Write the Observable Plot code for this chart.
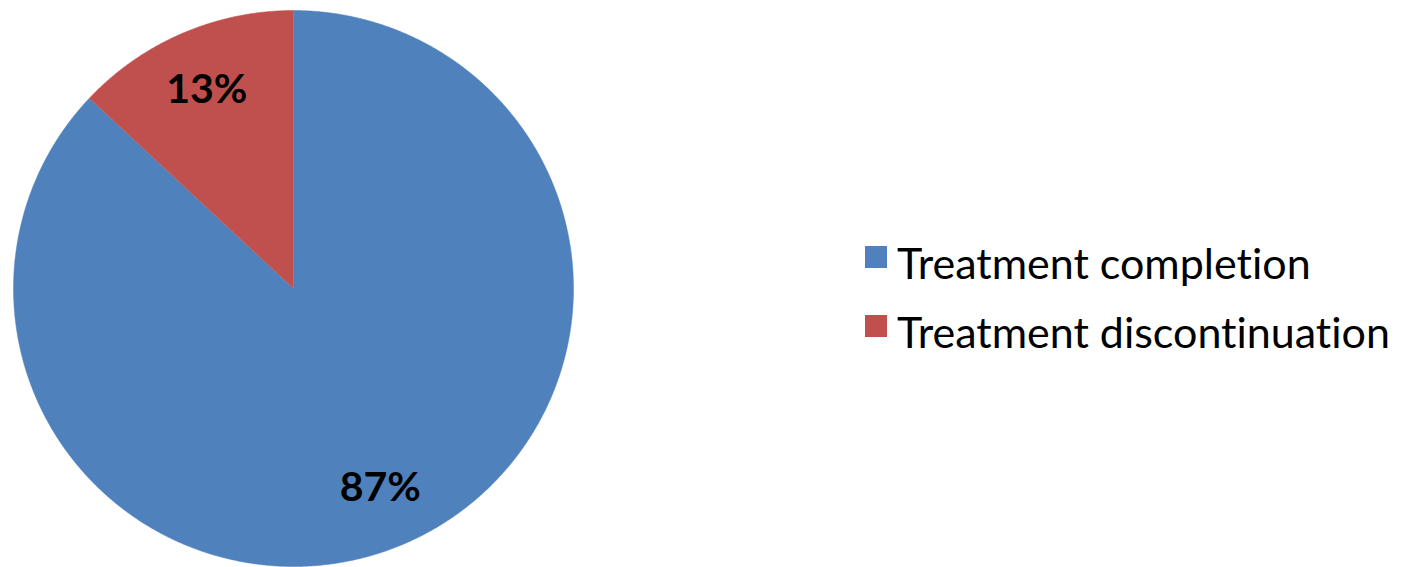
<!DOCTYPE html>
<html>
<head>
<meta charset="utf-8">
<script src="https://cdn.jsdelivr.net/npm/d3@7"></script>
<script src="https://cdn.jsdelivr.net/npm/@observablehq/plot@0.6"></script>
<style>
  html, body { margin: 0; padding: 0; background: #fff; }
  #wrap { position: relative; width: 1404px; height: 567px; overflow: hidden; }
  #legend { position: absolute; left: 865px; top: 228px; font-family: Lato, "Open Sans", sans-serif; font-size: 43px; color: #000; font-variant-ligatures: none; font-feature-settings: "liga" 0; }
  .row { display: flex; align-items: center; height: 69px; }
  .sw { width: 22px; height: 22px; margin-right: 10px; margin-top: -12px; }
</style>
</head>
<body>
<div id="wrap"></div>
<script>
const categories = ["Treatment completion", "Treatment discontinuation"];
const values = [87, 13];
const labels = ["87%", "13%"];
const colors = ["#4F81BD", "#C0504D"];

const pie = d3.pie().sort(null).value(d => d.value);
const arcs = pie(categories.map((name, i) => ({name, value: values[i], label: labels[i]})));

// build slice outlines in unit-circle coordinates from the pie angles
const outline = [];
for (const a of arcs) {
  outline.push({name: a.data.name, x: 0, y: 0});
  const n = Math.max(2, Math.ceil((a.endAngle - a.startAngle) / 0.005));
  for (let k = 0; k <= n; k++) {
    const t = a.startAngle + (a.endAngle - a.startAngle) * k / n;
    outline.push({name: a.data.name, x: Math.sin(t), y: Math.cos(t)});
  }
}
const labelR = 0.78;
const labelPts = arcs.map(a => {
  const m = (a.startAngle + a.endAngle) / 2;
  return {label: a.data.label, x: labelR * Math.sin(m), y: labelR * Math.cos(m)};
});

const chart = Plot.plot({
  width: 1404,
  height: 567,
  margin: 0,
  style: {background: "#fff"},
  x: {domain: [-1, 1], range: [13, 573], axis: null},
  y: {domain: [-1, 1], range: [566, 10], axis: null},
  color: {domain: categories, range: colors},
  marks: [
    Plot.line(outline, {x: "x", y: "y", z: "name", fill: "name", stroke: "name", strokeWidth: 0.5, curve: "linear"}),
    Plot.text(labelPts, {x: "x", y: "y", text: "label", fontSize: 41, fontWeight: "bold", fill: "#000", fontFamily: "Lato, 'Open Sans', sans-serif"})
  ]
});
const wrap = document.getElementById("wrap");
wrap.appendChild(chart);

const legend = document.createElement("div");
legend.id = "legend";
categories.forEach((c, i) => {
  const row = document.createElement("div");
  row.className = "row";
  const sw = document.createElement("div");
  sw.className = "sw";
  sw.style.background = colors[i];
  const tx = document.createElement("span");
  tx.textContent = c;
  row.appendChild(sw);
  row.appendChild(tx);
  legend.appendChild(row);
});
wrap.appendChild(legend);
</script>
</body>
</html>
